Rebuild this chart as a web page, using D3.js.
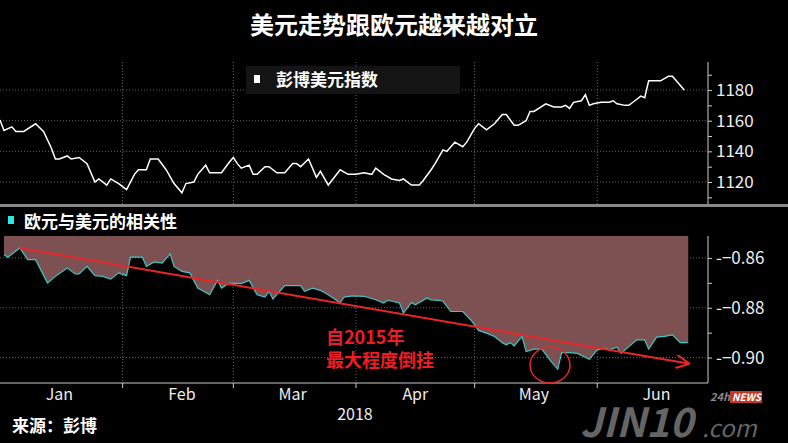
<!DOCTYPE html>
<html><head><meta charset="utf-8">
<script src="https://d3js.org/d3.v7.min.js"></script>
<style>body{margin:0;background:#000}svg{display:block}text{font-family:"Noto Sans CJK SC","Liberation Sans",sans-serif}</style>
</head><body>
<script>
const title = "美元走势跟欧元越来越对立";
const usdDays = [0,1,3,4,6,9,11,13,14,15,17,18,20,22,24,25,27,28,30,32,34,35,37,38,40,42,44,46,47,49,50,52,53,56,58,59,60,61,63,64,65,67,68,70,71,72,74,75,76,78,80,81,83,86,88,90,92,94,95,97,99,101,102,104,106,107,109,110,112,113,114,115,117,118,120,121,123,125,127,128,130,131,133,134,135,138,140,142,143,144,145,147,148,149,150,152,154,155,156,158,159,161,162,163,164,167,169,170,173];
const usdValues = [1160.5,1153.6,1156,1153,1153,1158,1153,1142,1135,1135,1137,1135,1136,1132,1120,1122,1118,1122,1119,1115,1125,1128,1128,1135,1135,1128,1119,1113,1119,1120,1125,1131,1126,1126,1133,1136,1132,1129,1131,1125,1125,1130,1130,1126,1126,1126,1132,1132,1130,1135,1123,1127,1118,1128,1125,1125,1126,1125,1129,1125,1122,1121,1122,1118,1118,1121,1128,1132,1141,1140,1143,1146,1143,1146,1155,1158,1154,1158,1164,1164,1157,1157,1160,1166,1166,1171,1169,1169,1170,1168,1172,1173,1177,1170,1171,1172,1172,1173,1171,1170,1170,1174,1176,1175,1186,1186,1189,1189,1180];
const corrZx = [10,22,45,58,75,98,115,140,155,165,178,195,210,225,240,255,265,285,298,315,330,340,352,370,385,400,420,435,450,465,485,500,518,530,540,550,570,590,605,615,628,645,660,680,695,710,735,755,770,780,800,812,825,838,855,868,880,890,905,930,945,960,975,990,1005,1015,1025,1035,1045,1058,1070,1085,1100,1115,1125,1140,1160,1180,1198,1210,1220,1235,1248,1262,1275,1290,1300,1315,1335,1350,1362,1378];
const corrDays = corrZx.map(z => +(z/7.91).toFixed(1));
const corrValues = [-0.8587,-0.8597,-0.8560,-0.8607,-0.8607,-0.8701,-0.8674,-0.8640,-0.8664,-0.8664,-0.8634,-0.8671,-0.8674,-0.8685,-0.8660,-0.8671,-0.8597,-0.8597,-0.8634,-0.8616,-0.8621,-0.8584,-0.8634,-0.8654,-0.8660,-0.8721,-0.8748,-0.8690,-0.8721,-0.8701,-0.8703,-0.8690,-0.8748,-0.8757,-0.8734,-0.8765,-0.8711,-0.8711,-0.8711,-0.8734,-0.8721,-0.8730,-0.8748,-0.8781,-0.8757,-0.8752,-0.8754,-0.8768,-0.8781,-0.8770,-0.8781,-0.8821,-0.8779,-0.8788,-0.8761,-0.8768,-0.8770,-0.8774,-0.8815,-0.8815,-0.8848,-0.8891,-0.8902,-0.8915,-0.8940,-0.8949,-0.8940,-0.8953,-0.8915,-0.8976,-0.8966,-0.8966,-0.9009,-0.9047,-0.8980,-0.8980,-0.8983,-0.9007,-0.8969,-0.8962,-0.8969,-0.8958,-0.8983,-0.8956,-0.8929,-0.8929,-0.8966,-0.8918,-0.8915,-0.8909,-0.8940,-0.8940];
const trendDays = [5.7,174];
const trendValues = [-0.8560,-0.9024];
const usdTicks = [1120,1140,1160,1180];
const corrTicks = [-0.86,-0.88,-0.90];
const monthLabels = ["Jan","Feb","Mar","Apr","May","Jun"];

const W=788,H=443;
const day = d => new Date(2018,0,1+d);
const svg = d3.select("body").append("svg").attr("width",W).attr("height",H).style("background","#000");
const x = d3.scaleTime().domain([day(0),day(179)]).range([0,708]);
const y1 = d3.scaleLinear().domain([1105,1199.6]).range([205,60]);
const y2 = d3.scaleLinear().domain([-0.8512,-0.9102]).range([236,383]);
const grid = "#666";
const numFont = "Liberation Sans Narrow, Liberation Sans, sans-serif";

svg.append("text").attr("x",394).attr("y",34).attr("text-anchor","middle").attr("fill","#fff").attr("font-size",24).attr("font-weight","bold").text(title);

const monthStarts = d3.range(1,6).map(m=>new Date(2018,m,1));
[[62,204],[236,383]].forEach(([a,b])=>{
  svg.selectAll(null).data(monthStarts).enter().append("line")
   .attr("x1",d=>x(d)).attr("x2",d=>x(d)).attr("y1",a).attr("y2",b)
   .attr("stroke",grid).attr("stroke-dasharray","1,2");
});
svg.selectAll(null).data(usdTicks).enter().append("line").attr("x1",0).attr("x2",708)
  .attr("y1",d=>y1(d)).attr("y2",d=>y1(d)).attr("stroke",grid).attr("stroke-dasharray","1,2");
svg.selectAll(null).data(corrTicks).enter().append("line").attr("x1",0).attr("x2",708)
  .attr("y1",d=>y2(d)).attr("y2",d=>y2(d)).attr("stroke",grid).attr("stroke-dasharray","1,2");

svg.append("path").datum(usdDays.map((d,i)=>[d,usdValues[i]]))
  .attr("d",d3.line().x(d=>x(day(d[0]))).y(d=>y1(d[1])))
  .attr("fill","none").attr("stroke","#fff").attr("stroke-width",1.5);

const cd = corrDays.map((d,i)=>[d,corrValues[i]]);
svg.append("path").datum(cd)
  .attr("d",d3.area().x(d=>x(day(d[0]))).y0(236).y1(d=>y2(d[1])))
  .attr("fill","#7d5151");
svg.append("path").datum(cd)
  .attr("d",d3.line().x(d=>x(day(d[0]))).y(d=>y2(d[1])))
  .attr("fill","none").attr("stroke","#3cc8c8").attr("stroke-width",1.2);

svg.append("rect").attr("x",0).attr("y",204).attr("width",W).attr("height",3).attr("fill","#888");

const ax1 = svg.append("g").attr("transform","translate(708,0)")
  .call(d3.axisRight(y1).tickValues(d3.range(1110,1200,10)).tickSize(4).tickFormat(d=>usdTicks.includes(d)?d:""));
const ax2 = svg.append("g").attr("transform","translate(708,0)")
  .call(d3.axisRight(y2).tickValues([-0.86,-0.87,-0.88,-0.89,-0.90]).tickSize(4).tickFormat(d=>corrTicks.some(t=>Math.abs(t-d)<1e-9)?"-"+d3.format(".2f")(d):""));
[ax1,ax2].forEach(a=>{a.select(".domain").attr("stroke","#ccc");a.selectAll(".tick line").attr("stroke","#ccc");
  a.selectAll("text").attr("fill","#eee").attr("font-size",17).attr("font-family",numFont).attr("x",8);});
ax1.select(".domain").attr("d","M0,62V204");
ax2.select(".domain").attr("d","M0,236V383");

svg.append("line").attr("x1",0).attr("x2",708).attr("y1",383).attr("y2",383).attr("stroke","#ccc");
svg.selectAll(null).data(monthStarts).enter().append("line").attr("x1",d=>x(d)).attr("x2",d=>x(d)).attr("y1",383).attr("y2",388).attr("stroke","#ccc");
svg.selectAll(null).data(monthLabels).enter().append("text")
  .attr("x",(d,i)=>x(new Date(2018,i,16))).attr("y",400).attr("text-anchor","middle")
  .attr("fill","#eee").attr("font-size",16).attr("font-family",numFont).text(d=>d);
svg.append("text").attr("x",355).attr("y",420).attr("text-anchor","middle").attr("fill","#eee").attr("font-size",16)
  .attr("font-family",numFont).text("2018");

svg.append("rect").attr("x",246).attr("y",66).attr("width",214).attr("height",28).attr("fill","#141414");
svg.append("rect").attr("x",254).attr("y",75).attr("width",6).attr("height",8).attr("fill","#fff");
svg.append("text").attr("x",276).attr("y",86).attr("fill","#fff").attr("font-size",17).attr("font-weight","bold").text("彭博美元指数");
svg.append("rect").attr("x",8).attr("y",216).attr("width",6).attr("height",8).attr("fill","#2ee6e6");
svg.append("text").attr("x",24).attr("y",228).attr("fill","#fff").attr("font-size",17).attr("font-weight","bold").text("欧元与美元的相关性");

svg.append("defs").append("marker").attr("id","arr").attr("viewBox","0 0 10 10").attr("refX",9).attr("refY",5)
  .attr("markerWidth",7).attr("markerHeight",7).attr("orient","auto")
  .append("path").attr("d","M0,0L10,5L0,10").attr("fill","none").attr("stroke","#e8262a").attr("stroke-width",1.5);
svg.append("line").attr("x1",x(day(trendDays[0]))).attr("y1",y2(trendValues[0]))
  .attr("x2",x(day(trendDays[1]))).attr("y2",y2(trendValues[1]))
  .attr("stroke","#e8262a").attr("stroke-width",2).attr("marker-end","url(#arr)");
svg.append("ellipse").attr("cx",550).attr("cy",365).attr("rx",20).attr("ry",18).attr("fill","none").attr("stroke","#e8262a").attr("stroke-width",1.5);
svg.append("text").attr("x",326).attr("y",344).attr("fill","#ee1c24").attr("font-size",18).attr("font-weight","bold").text("自2015年");
svg.append("text").attr("x",326).attr("y",367).attr("fill","#ee1c24").attr("font-size",18).attr("font-weight","bold").text("最大程度倒挂");

svg.append("text").attr("x",12).attr("y",432).attr("fill","#fff").attr("font-size",17).attr("font-weight","bold").text("来源：彭博");
svg.append("text").attr("x",580).attr("y",437).attr("fill","#777").attr("font-size",40).attr("font-weight","bold").attr("font-style","italic")
  .attr("font-family","Liberation Sans, sans-serif").attr("opacity",0.85).text("JIN10");
svg.append("text").attr("x",702).attr("y",437).attr("fill","#777").attr("font-size",24).attr("font-style","italic")
  .attr("font-family","Liberation Sans, sans-serif").attr("opacity",0.85).text(".com");
svg.append("text").attr("x",710).attr("y",401).attr("fill","#888").attr("font-size",11).attr("font-weight","bold").attr("font-style","italic").attr("font-family","Liberation Sans, sans-serif").text("24h");
svg.append("rect").attr("x",730).attr("y",391).attr("width",32).attr("height",12).attr("fill","#c0392b");
svg.append("text").attr("x",732).attr("y",401).attr("fill","#fff").attr("font-size",10).attr("font-weight","bold").attr("font-style","italic").attr("font-family","Liberation Sans, sans-serif").text("NEWS");
</script>
</body></html>
